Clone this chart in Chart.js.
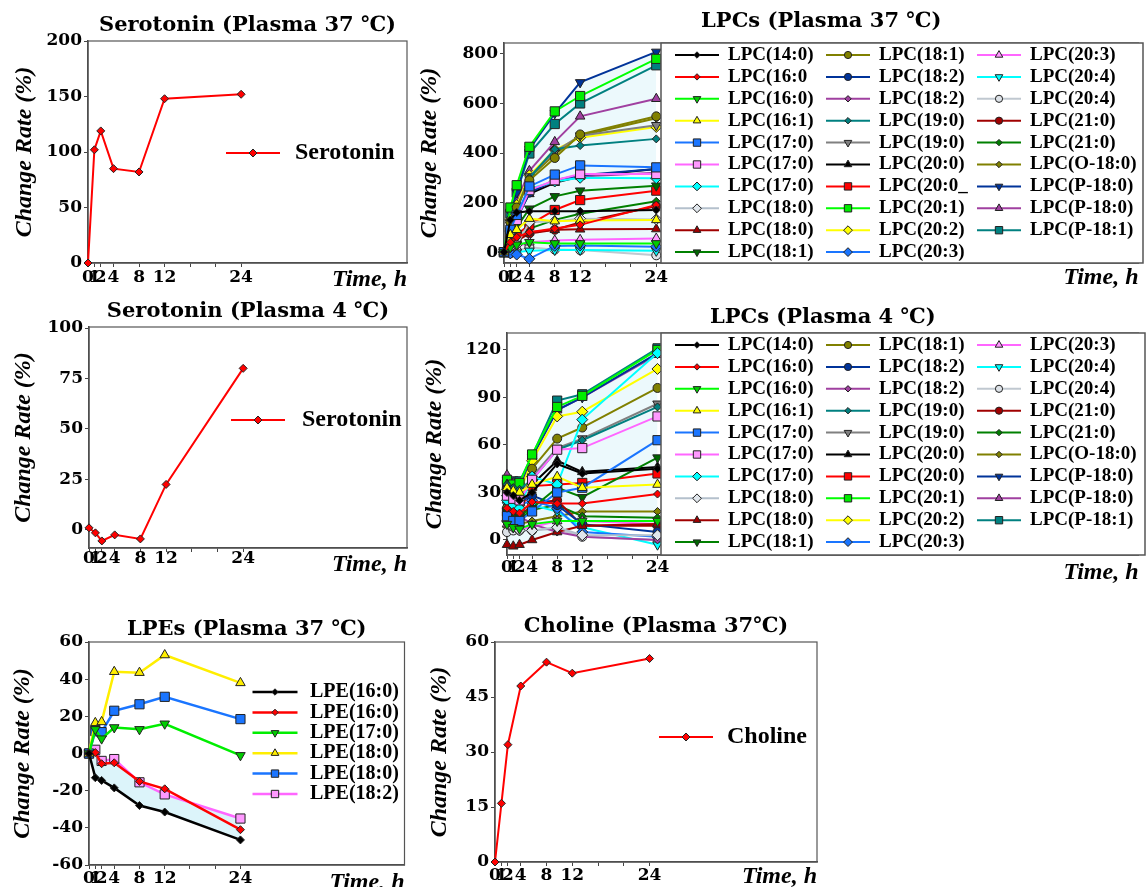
<!DOCTYPE html>
<html>
<head>
<meta charset="utf-8">
<script src="https://cdn.jsdelivr.net/npm/chart.js@4.4.1/dist/chart.umd.min.js"></script>
<style>
  html, body { margin: 0; padding: 0; background: #fff; }
  #page { position: relative; width: 1146px; height: 887px; overflow: hidden; background: #fff; }
  canvas { position: absolute; }
</style>
</head>
<body>
<div id="page">
  <canvas id="c1" width="412" height="292" style="left:0px;top:0px"></canvas>
  <canvas id="c2" width="731" height="292" style="left:415px;top:0px"></canvas>
  <canvas id="c3" width="412" height="292" style="left:0px;top:295px"></canvas>
  <canvas id="c4" width="731" height="290" style="left:415px;top:300px"></canvas>
  <canvas id="c5" width="412" height="275" style="left:0px;top:612px"></canvas>
  <canvas id="c6" width="412" height="275" style="left:410px;top:612px"></canvas>
</div>
<script>
// ---- data ----
const hours = [0, 1, 2, 4, 8, 12, 24];
const xTickValues = [0, 1, 2, 4, 8, 12, 16, 20, 24];
const xTickLabels = ['0', '1', '2', '4', '8', '12', '', '', '24'];

const serotonin37 = [0, 102, 119, 85, 82, 148, 152];
const serotonin4 = [1, -1.5, -5.5, -2.5, -4.5, 22.5, 80];
const choline37 = [0, 16, 32, 48, 54.5, 51.5, 55.5];

const yTicksSer37 = [0, 50, 100, 150, 200];
const yTicksSer4 = [0, 25, 50, 75, 100];
const yTicksLpc37 = [0, 200, 400, 600, 800];
const yTicksLpc4 = [0, 30, 60, 90, 120];
const yTicksLpe = [-60, -40, -20, 0, 20, 40, 60];
const yTicksCho = [0, 15, 30, 45, 60];

const lpeLabels = ['LPE(16:0)', 'LPE(16:0)', 'LPE(17:0)', 'LPE(18:0)', 'LPE(18:0)', 'LPE(18:2)'];
const lpe37 = [
  [0, -13, -14.5, -18.5, -28, -31.5, -46.5],
  [0, 0.5, -5.5, -5, -15, -19, -41],
  [0, 13, 8, 14, 13, 16, -1],
  [0, 16.5, 17, 44, 43.5, 53, 38],
  [0, 12, 11.5, 23, 26.5, 30.5, 18.5],
  [0, 2, -4, -3, -15.5, -22, -35]
];

const lpcLabels37 = ['LPC(14:0)', 'LPC(16:0', 'LPC(16:0)', 'LPC(16:1)', 'LPC(17:0)', 'LPC(17:0)', 'LPC(17:0)', 'LPC(18:0)', 'LPC(18:0)', 'LPC(18:1)',
  'LPC(18:1)', 'LPC(18:2)', 'LPC(18:2)', 'LPC(19:0)', 'LPC(19:0)', 'LPC(20:0)', 'LPC(20:0_', 'LPC(20:1)', 'LPC(20:2)', 'LPC(20:3)',
  'LPC(20:3)', 'LPC(20:4)', 'LPC(20:4)', 'LPC(21:0)', 'LPC(21:0)', 'LPC(O-18:0)', 'LPC(P-18:0)', 'LPC(P-18:0)', 'LPC(P-18:1)'];
const lpcLabels4 = ['LPC(14:0)', 'LPC(16:0)', 'LPC(16:0)', 'LPC(16:1)', 'LPC(17:0)', 'LPC(17:0)', 'LPC(17:0)', 'LPC(18:0)', 'LPC(18:0)', 'LPC(18:1)',
  'LPC(18:1)', 'LPC(18:2)', 'LPC(18:2)', 'LPC(19:0)', 'LPC(19:0)', 'LPC(20:0)', 'LPC(20:0)', 'LPC(20:1)', 'LPC(20:2)', 'LPC(20:3)',
  'LPC(20:3)', 'LPC(20:4)', 'LPC(20:4)', 'LPC(21:0)', 'LPC(21:0)', 'LPC(O-18:0)', 'LPC(P-18:0)', 'LPC(P-18:0)', 'LPC(P-18:1)'];

const lpc37 = [
  [0, 130, 160, 165, 165, 165, 170],
  [0, 40, 60, 80, 95, 110, 190],
  [0, 20, 30, 40, 35, 35, 35],
  [0, 70, 90, 135, 125, 128, 130],
  [0, 90, 150, 265, 313, 350, 342],
  [0, 80, 130, 250, 290, 315, 315],
  [0, 85, 140, 255, 285, 300, 298],
  [0, 20, 30, 120, 125, 135, 132],
  [0, 30, 50, 80, 90, 92, 93],
  [0, 70, 100, 175, 225, 248, 268],
  [0, 120, 180, 290, 380, 475, 548],
  [0, 80, 130, 240, 290, 310, 335],
  [0, 85, 140, 245, 285, 305, 320],
  [0, 100, 170, 300, 415, 430, 457],
  [0, 110, 175, 305, 405, 470, 512],
  [0, 90, 140, 235, 280, 305, 335],
  [0, 50, 70, 110, 170, 210, 248],
  [0, 180, 270, 425, 568, 630, 780],
  [0, 130, 190, 310, 413, 462, 505],
  [0, -5, -10, -27, 25, 27, 22],
  [0, 10, 20, 40, 47, 50, 55],
  [0, -5, 0, 5, 8, 8, 5],
  [0, -5, 5, 20, 10, 8, -13],
  [0, 30, 45, 75, 90, 120, 185],
  [0, 30, 55, 95, 130, 155, 205],
  [0, 125, 185, 300, 395, 470, 540],
  [0, 160, 240, 415, 560, 685, 808],
  [0, 140, 205, 328, 445, 548, 619],
  [0, 155, 240, 398, 517, 600, 754]
];

const lpc4 = [
  [30, 28, 25, 30, 48, 42, 45],
  [20, 18, 17, 24, 23, 23, 29],
  [10, 8, 7, 10, 12, 12, 12],
  [33, 31, 30, 35, 40, 33, 35],
  [15, 12, 12, 18, 30, 33, 63],
  [28, 26, 25, 38, 57, 58, 78],
  [25, 22, 20, 40, 35, 76, 118],
  [12, 8, 6, 6, 8, 3, 3],
  [-3, -4, -3, 0, 5, 9, 10],
  [18, 16, 15, 20, 33, 27, 52],
  [20, 17, 18, 45, 64, 71, 96],
  [32, 27, 24, 28, 22, 10, 5],
  [22, 18, 15, 10, 5, 2, 0],
  [35, 33, 32, 38, 57, 63, 84],
  [30, 27, 26, 40, 58, 64, 86],
  [35, 32, 30, 35, 50, 43, 46],
  [18, 18, 18, 34, 35, 36, 42],
  [38, 35, 36, 54, 84, 91, 120],
  [32, 30, 30, 50, 78, 81, 108],
  [28, 24, 22, 25, 20, 5, 2],
  [10, 8, 7, 8, 12, 12, 10],
  [22, 20, 18, 22, 18, 8, -3],
  [5, 6, 6, 6, 7, 2, 0],
  [16, 14, 14, 23, 25, 9, 9],
  [17, 14, 13, 19, 22, 15, 14],
  [8, 10, 10, 12, 15, 18, 18],
  [38, 34, 32, 52, 82, 90, 118],
  [41, 36, 34, 53, 82, 90, 117],
  [35, 37, 37, 53, 88, 92, 121]
];

// ---- styles ----
const lpcColors = ['#000000', '#ff0000', '#00ff00', '#ffff00', '#1a75ff', '#ff66ff', '#00ffff', '#b4c0cc', '#a00000', '#008000',
  '#808000', '#003399', '#a040a0', '#008080', '#808080', '#000000', '#ff0000', '#00ff00', '#ffff00', '#1a75ff',
  '#ff66ff', '#00ffff', '#c0c8d0', '#a00000', '#008000', '#808000', '#003399', '#a040a0', '#008080'];
const lpcFills = ['#000000', '#ff0000', '#00cc00', '#ffff00', '#1a75ff', '#ff99ff', '#00ffff', '#e0e6ec', '#a00000', '#006600',
  '#808000', '#003399', '#a040a0', '#008080', '#808080', '#000000', '#ff0000', '#00ee00', '#ffff00', '#1a75ff',
  '#ff99ff', '#00ffff', '#dde2e8', '#a00000', '#008000', '#808000', '#003399', '#a040a0', '#008080'];
const lpcMarkers = ['dS', 'dS', 'dn', 'up', 'sq', 'sq', 'dL', 'dL', 'up', 'dn',
  'ci', 'ci', 'dS', 'dS', 'dn', 'up', 'sq', 'sq', 'dL', 'dL',
  'up', 'dn', 'ci', 'ci', 'dS', 'dS', 'dn', 'up', 'sq'];
const markerStyles = {
  dS: { pointStyle: 'rectRot', pointRadius: 4, pointRotation: 0 },
  dL: { pointStyle: 'rectRot', pointRadius: 5.5, pointRotation: 0 },
  up: { pointStyle: 'triangle', pointRadius: 5.5, pointRotation: 0 },
  dn: { pointStyle: 'triangle', pointRadius: 5.5, pointRotation: 180 },
  sq: { pointStyle: 'rect', pointRadius: 6.5, pointRotation: 0 },
  ci: { pointStyle: 'circle', pointRadius: 4.5, pointRotation: 0 }
};
const lpeColors = ['#000000', '#ff0000', '#00ee00', '#ffee00', '#1a75ff', '#ff66ff'];
const lpeFills = ['#000000', '#ff0000', '#00cc00', '#ffee00', '#1a75ff', '#ff99ff'];
const lpeMarkers = ['dS', 'dS', 'dn', 'up', 'sq', 'sq'];

const tickFont = { family: 'DejaVu Serif', size: 17, weight: 'bold' };
const axisFont = { family: 'Liberation Serif', size: 24, weight: 'bold', style: 'italic' };
const titleFont = { family: 'DejaVu Serif', size: 21, weight: 'bold' };
const titleLine = 21 * 1.2;
const axisHalf = 24 * 1.2 / 2;

const pts = vals => hours.map((h, i) => ({ x: h, y: vals[i] }));

function series(label, vals, color, fill, marker, width) {
  return Object.assign({
    label: label,
    data: pts(vals),
    borderColor: color,
    borderWidth: width,
    pointBackgroundColor: fill,
    pointBorderColor: '#222',
    pointBorderWidth: 1,
    tension: 0,
    clip: false
  }, markerStyles[marker]);
}

// box around the plot area
const framePlugin = {
  id: 'frame',
  beforeDatasetsDraw(chart) {
    const { ctx, chartArea: a } = chart;
    ctx.save();
    ctx.strokeStyle = '#555';
    ctx.lineWidth = 1.2;
    ctx.strokeRect(a.left, a.top, a.right - a.left, a.bottom - a.top);
    ctx.restore();
  }
};

// legend drawn inside the plot, built from the datasets
const sideLegend = {
  id: 'sideLegend',
  afterDatasetsDraw(chart, args, o) {
    const ctx = chart.ctx;
    ctx.save();
    if (o.boxed) {
      ctx.fillStyle = '#fff';
      ctx.fillRect(o.boxL, o.boxT, o.boxR - o.boxL, o.boxB - o.boxT);
      ctx.strokeStyle = '#555';
      ctx.lineWidth = 1.5;
      ctx.strokeRect(o.boxL, o.boxT, o.boxR - o.boxL, o.boxB - o.boxT);
    }
    chart.data.datasets.forEach((ds, i) => {
      const cx = o.x + Math.floor(i / o.rows) * o.dx;
      const cy = o.y + (i % o.rows) * o.dy;
      ctx.strokeStyle = ds.borderColor;
      ctx.lineWidth = ds.borderWidth;
      ctx.beginPath();
      ctx.moveTo(cx - o.half, cy);
      ctx.lineTo(cx + o.half, cy);
      ctx.stroke();
      ctx.fillStyle = ds.pointBackgroundColor;
      ctx.strokeStyle = ds.pointBorderColor;
      ctx.lineWidth = 1;
      Chart.helpers.drawPoint(ctx, {
        pointStyle: ds.pointStyle, radius: ds.pointRadius * o.mScale,
        rotation: ds.pointRotation || 0, borderWidth: 1
      }, cx, cy);
      ctx.fillStyle = '#000';
      ctx.font = o.labelFont;
      ctx.textAlign = 'left';
      ctx.textBaseline = 'middle';
      ctx.fillText(ds.label, cx + o.textOff, cy);
    });
    ctx.restore();
  }
};

function panel(id, g, datasets, yMin, yMax, yTicks, xMax, title, legend) {
  return new Chart(document.getElementById(id), {
    type: 'line',
    data: { datasets: datasets },
    options: {
      responsive: false,
      animation: false,
      events: [],
      layout: { padding: { left: 0, right: g.padR, top: 0, bottom: 0 } },
      plugins: {
        legend: { display: false },
        tooltip: { enabled: false },
        filler: { drawTime: 'beforeDatasetsDraw' },
        title: {
          display: true, text: title, fullSize: false, color: '#000', font: titleFont,
          padding: { top: g.titleTop, bottom: g.T - titleLine - g.titleTop }
        },
        sideLegend: legend
      },
      scales: {
        x: {
          type: 'linear', min: 0, max: xMax,
          afterFit: s => { s.height = g.xH; },
          afterBuildTicks: s => { s.ticks = xTickValues.map(v => ({ value: v })); },
          ticks: {
            autoSkip: false, maxRotation: 0, padding: g.xTickPad, color: '#000', font: tickFont,
            callback: v => { const k = xTickValues.indexOf(v); return k < 0 ? '' : xTickLabels[k]; }
          },
          grid: { display: true, drawOnChartArea: false, drawTicks: true, tickLength: 4, color: '#444' },
          border: { display: true, color: '#444', width: 1.5 },
          title: { display: true, text: 'Time, h', align: 'end', color: '#000', font: axisFont,
            padding: { top: 0, bottom: g.timeY - axisHalf } }
        },
        y: {
          min: yMin, max: yMax,
          afterFit: s => { s.width = g.L; },
          afterBuildTicks: s => { s.ticks = yTicks.map(v => ({ value: v })); },
          ticks: { padding: 2, color: '#000', font: tickFont },
          grid: { display: true, drawOnChartArea: false, drawTicks: true, tickLength: 4, color: '#444' },
          border: { display: true, color: '#444', width: 1.5 },
          title: { display: true, text: 'Change Rate (%)', color: '#000', font: axisFont,
            padding: { top: g.yTitleX - axisHalf, bottom: 0 } }
        }
      }
    },
    plugins: [framePlugin, sideLegend]
  });
}

const lpcSets = (labels, values, top, bottom) => {
  const sets = values.map((v, i) => series(labels[i], v, lpcColors[i], lpcFills[i], lpcMarkers[i], 2));
  sets[top].fill = { target: bottom };
  sets[top].backgroundColor = 'rgba(228,247,251,0.7)';
  return sets;
};
const lpeSets = lpe37.map((v, i) => series(lpeLabels[i], v, lpeColors[i], lpeFills[i], lpeMarkers[i], 2.5));
lpeSets[0].fill = { target: 5 };
lpeSets[0].backgroundColor = 'rgba(205,240,248,0.7)';

const redSet = (label, vals) => series(label, vals, '#ff0000', '#ff0000', 'dS', 2);

// timeY: distance of the "Time, h" centre above the canvas bottom; yTitleX: centre of the y title from the canvas left
panel('c1', { L: 88, T: 41, padR: 5, titleTop: 13, xH: 29, yTitleX: 25, xTickPad: 0, timeY: 12 },
  [redSet('Serotonin', serotonin37)], 0, 200, yTicksSer37, 50, 'Serotonin (Plasma 37 \u2103)',
  { x: 253, y: 153, rows: 1, dx: 0, dy: 0, half: 27, textOff: 42, mScale: 1, labelFont: 'bold 24px "Liberation Serif"' });

panel('c2', { L: 89, T: 43, padR: 3, titleTop: 9, xH: 29, yTitleX: 15, xTickPad: 0, timeY: 14 },
  lpcSets(lpcLabels37, lpc37, 26, 22), -44, 844, yTicksLpc37, 100, 'LPCs (Plasma 37 \u2103)',
  { boxed: true, boxL: 246, boxT: 43, boxR: 728, boxB: 263, x: 282, y: 55, rows: 10, dx: 151, dy: 21.9, half: 22, textOff: 31, mScale: 0.8, labelFont: 'bold 19px "Liberation Serif"' });

panel('c3', { L: 89, T: 32, padR: 5, titleTop: 4, xH: 39, yTitleX: 24, xTickPad: -3.5, timeY: 22 },
  [redSet('Serotonin', serotonin4)], -9, 100.5, yTicksSer4, 49.5, 'Serotonin (Plasma 4 \u2103)',
  { x: 258, y: 125, rows: 1, dx: 0, dy: 0, half: 27, textOff: 44, mScale: 1, labelFont: 'bold 24px "Liberation Serif"' });

panel('c4', { L: 92, T: 33, padR: 1, titleTop: 5, xH: 35, yTitleX: 20, xTickPad: -1.5, timeY: 17 },
  lpcSets(lpcLabels4, lpc4, 28, 8), -9.5, 130.7, yTicksLpc4, 100.7, 'LPCs (Plasma 4 \u2103)',
  { boxed: true, boxL: 246, boxT: 33, boxR: 730, boxB: 255, x: 282, y: 45, rows: 10, dx: 151, dy: 21.9, half: 22, textOff: 31, mScale: 0.8, labelFont: 'bold 19px "Liberation Serif"' });

panel('c5', { L: 89, T: 30, padR: 5, titleTop: 5, xH: 22, yTitleX: 23, xTickPad: -0.5, timeY: 4 },
  lpeSets, -60, 60, yTicksLpe, 50, 'LPEs (Plasma 37 \u2103)',
  { x: 275, y: 80, rows: 6, dx: 0, dy: 20.4, half: 22.5, textOff: 35, mScale: 0.8, labelFont: 'bold 20px "Liberation Serif"' });

panel('c6', { L: 85, T: 30, padR: 5, titleTop: 2, xH: 25, yTitleX: 30, xTickPad: -0.5, timeY: 10 },
  [redSet('Choline', choline37)], 0, 60, yTicksCho, 50, 'Choline (Plasma 37\u2103)',
  { x: 276, y: 125, rows: 1, dx: 0, dy: 0, half: 27, textOff: 41, mScale: 1, labelFont: 'bold 24px "Liberation Serif"' });
</script>
</body>
</html>
